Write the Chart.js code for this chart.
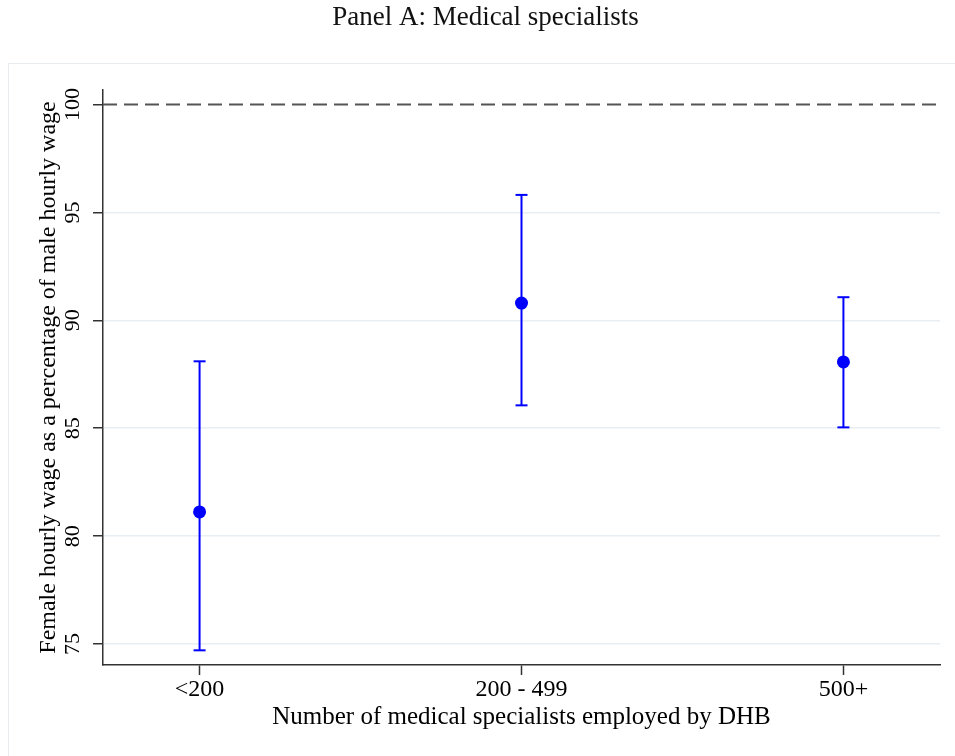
<!DOCTYPE html>
<html>
<head>
<meta charset="utf-8">
<script src="https://cdn.jsdelivr.net/npm/chart.js@4"></script>
<style>
  html, body { margin: 0; padding: 0; background: #fff; }
  #wrap { width: 955px; height: 756px; }
</style>
</head>
<body>
<div id="wrap"><canvas id="chart" width="955" height="756"></canvas></div>
<script>
// data
const categories = ['<200', '200 - 499', '500+'];
const estimates = [81.12, 90.80, 88.07];
const ciLower = [74.71, 86.06, 85.04];
const ciUpper = [88.10, 95.81, 91.07];
const yTicks = [75, 80, 85, 90, 95, 100];
const referenceLine = 100;

const serif = '"Liberation Serif", "Times New Roman", serif';
const blue = '#0000ff';
const xMin = 0.7, xMax = 3.3;
const padLeft = 31;

// faint outer frame of the graph region
const framePlugin = {
  id: 'frame',
  beforeDraw(chart) {
    const ctx = chart.ctx;
    ctx.save();
    ctx.fillStyle = '#fff';
    ctx.fillRect(0, 0, chart.width, chart.height);
    ctx.strokeStyle = '#e8ecef';
    ctx.lineWidth = 1;
    ctx.strokeRect(8.5, 63.5, chart.width + 10, chart.height + 10);
    ctx.restore();
  }
};

// whiskers: one dataset per category, caps come from the 'line' point style
const whiskers = categories.map((c, i) => ({
  data: [{ x: i + 1, y: ciLower[i] }, { x: i + 1, y: ciUpper[i] }],
  showLine: true,
  borderColor: blue,
  borderWidth: 2,
  pointStyle: 'line',
  pointRadius: 6,
  pointBorderWidth: 2,
  pointBorderColor: blue,
  order: 2
}));

new Chart(document.getElementById('chart').getContext('2d'), {
  type: 'scatter',
  data: {
    datasets: [
      {
        data: [{ x: xMin, y: referenceLine }, { x: xMax, y: referenceLine }],
        showLine: true,
        borderColor: '#555',
        borderWidth: 2,
        borderDash: [14, 7],
        pointRadius: 0,
        order: 3
      },
      ...whiskers,
      {
        data: categories.map((c, i) => ({ x: i + 1, y: estimates[i] })),
        pointRadius: 6.5,
        backgroundColor: blue,
        borderColor: blue,
        borderWidth: 0,
        order: 1
      }
    ]
  },
  options: {
    responsive: false,
    animation: false,
    layout: { padding: { left: padLeft, right: 15, top: 0, bottom: 0 } },
    plugins: {
      legend: { display: false },
      tooltip: { enabled: false },
      title: {
        display: true,
        text: 'Panel A: Medical specialists',
        color: '#111',
        font: { family: serif, size: 27, weight: 'normal' },
        padding: { top: 2, bottom: 55.6 }
      }
    },
    scales: {
      x: {
        type: 'linear',
        min: xMin,
        max: xMax,
        afterFit: s => { s.height = 91; },
        afterBuildTicks: s => { s.ticks = categories.map((c, i) => ({ value: i + 1 })); },
        grid: { drawOnChartArea: false, drawTicks: true, tickLength: 10, tickColor: '#333', tickWidth: 1.5 },
        border: { color: '#333', width: 1.5 },
        ticks: {
          color: '#000',
          padding: 0,
          maxRotation: 0,
          font: { family: serif, size: 24 },
          callback: v => categories[v - 1]
        },
        title: {
          display: true,
          text: 'Number of medical specialists employed by DHB',
          color: '#000',
          font: { family: serif, size: 25 },
          padding: { top: 0, bottom: 24 }
        }
      },
      y: {
        min: 74.03,
        max: 100.67,
        afterFit: s => { s.width = 103 - padLeft; },
        afterBuildTicks: s => { s.ticks = yTicks.map(v => ({ value: v })); },
        grid: {
          color: ctx => ctx.tick && ctx.tick.value === referenceLine ? 'rgba(0,0,0,0)' : '#e8eef1',
          lineWidth: 1.5,
          drawTicks: true,
          tickLength: 10,
          tickColor: '#333',
          tickWidth: 1.5
        },
        border: { color: '#333', width: 1.5 },
        ticks: {
          color: '#000',
          minRotation: 90,
          maxRotation: 90,
          crossAlign: 'center',
          padding: 3,
          font: { family: serif, size: 22 }
        },
        title: {
          display: true,
          text: 'Female hourly wage as a percentage of male hourly wage',
          color: '#000',
          font: { family: serif, size: 24 },
          padding: { top: 3, bottom: 0 }
        }
      }
    }
  },
  plugins: [framePlugin]
});
</script>
</body>
</html>
